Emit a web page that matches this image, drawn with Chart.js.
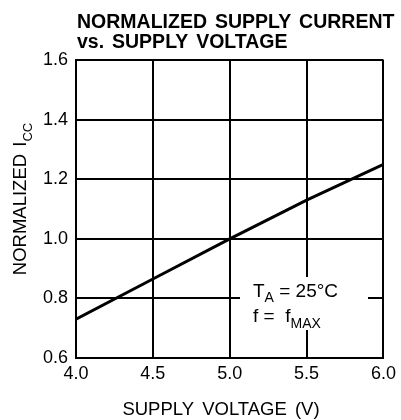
<!DOCTYPE html>
<html>
<head>
<meta charset="utf-8">
<script src="https://cdn.jsdelivr.net/npm/chart.js@4"></script>
<style>
html,body{margin:0;padding:0;background:#fff;}
#wrap{width:401px;height:420px;position:relative;}
</style>
</head>
<body>
<div id="wrap"><canvas id="c" width="401" height="420"></canvas></div>
<script>
const voltage = [4.0, 4.5, 5.0, 5.5, 6.0];
const normIcc = [0.73, 0.865, 1.0, 1.13, 1.25];
const xTickValues = [4.0, 4.5, 5.0, 5.5, 6.0];
const yTickValues = [0.6, 0.8, 1.0, 1.2, 1.4, 1.6];
const titleLines = ['NORMALIZED SUPPLY CURRENT', 'vs. SUPPLY VOLTAGE'];
const xTitle = 'SUPPLY VOLTAGE (V)';
const yTitleMain = 'NORMALIZED I';
const yTitleSub = 'CC';

const FONT = '"Liberation Sans", Arial, sans-serif';

function wordsWidth(ctx, text, gap) {
  const words = text.split(' ');
  const sp = ctx.measureText(' ').width + gap;
  let w = 0;
  words.forEach((wd, i) => { w += ctx.measureText(wd).width; if (i < words.length - 1) w += sp; });
  return w;
}
function drawWords(ctx, text, x, y, gap) {
  const words = text.split(' ');
  const sp = ctx.measureText(' ').width + gap;
  words.forEach(wd => { ctx.fillText(wd, x, y); x += ctx.measureText(wd).width + sp; });
  return x - sp;
}

const textPlugin = {
  id: 'textPlugin',
  afterDraw(chart) {
    const ctx = chart.ctx;
    ctx.save();
    ctx.fillStyle = '#000';
    ctx.textAlign = 'left';
    ctx.textBaseline = 'alphabetic';
    // Title
    ctx.font = 'bold 19.5px ' + FONT;
    drawWords(ctx, titleLines[0], 77, 27.5, 2.5);
    drawWords(ctx, titleLines[1], 77, 48, 2.5);
    // X title
    ctx.font = '18.5px ' + FONT;
    const xw = wordsWidth(ctx, xTitle, 3);
    drawWords(ctx, xTitle, 221 - xw / 2, 415, 3);
    // Y title rotated
    ctx.save();
    ctx.translate(26, 199);
    ctx.rotate(-Math.PI / 2);
    ctx.font = '18.5px ' + FONT;
    const wMain = wordsWidth(ctx, yTitleMain, 2);
    ctx.font = '13px ' + FONT;
    const wSub = ctx.measureText(yTitleSub).width;
    const total = wMain + wSub;
    ctx.font = '18.5px ' + FONT;
    drawWords(ctx, yTitleMain, -total / 2, 0, 2);
    ctx.font = '13px ' + FONT;
    ctx.fillText(yTitleSub, -total / 2 + wMain, 6);
    ctx.restore();
    // Annotation box
    ctx.fillStyle = '#fff';
    ctx.fillRect(240, 277, 128, 53);
    ctx.fillStyle = '#000';
    let x = 253;
    ctx.font = '19px ' + FONT;
    ctx.fillText('T', x, 297);
    x += ctx.measureText('T').width;
    ctx.font = '14px ' + FONT;
    ctx.fillText('A', x, 302);
    x += ctx.measureText('A').width;
    ctx.font = '19px ' + FONT;
    ctx.fillText(' = 25°C', x, 297);
    x = 253;
    ctx.fillText('f =  f', x, 322);
    x += ctx.measureText('f =  f').width;
    ctx.font = '14px ' + FONT;
    ctx.fillText('MAX', x, 328);
    ctx.restore();
  }
};

new Chart(document.getElementById('c'), {
  type: 'line',
  data: {
    datasets: [{
      data: voltage.map((v, i) => ({x: v, y: normIcc[i]})),
      borderColor: '#000',
      borderWidth: 3,
      pointRadius: 0,
      tension: 0,
      fill: false
    }]
  },
  options: {
    responsive: false,
    animation: false,
    events: [],
    layout: {padding: {left: 0, right: 14, top: 60, bottom: 0}},
    plugins: {legend: {display: false}, title: {display: false}, tooltip: {enabled: false}},
    scales: {
      x: {
        type: 'linear',
        min: 4.0, max: 6.0,
        afterBuildTicks(scale) { scale.ticks = xTickValues.map(v => ({value: v})); },
        afterFit(scale) { scale.height = 62; },
        grid: {color: '#000', lineWidth: 2, drawTicks: false},
        border: {color: '#000', width: 2},
        ticks: {color: '#000', padding: 5, maxRotation: 0, font: {family: FONT, size: 18},
          callback: v => Number(v).toFixed(1)}
      },
      y: {
        min: 0.6, max: 1.6,
        afterBuildTicks(scale) { scale.ticks = yTickValues.map(v => ({value: v})); },
        afterFit(scale) { scale.width = 76; },
        grid: {color: '#000', lineWidth: 2, drawTicks: false},
        border: {color: '#000', width: 2},
        ticks: {color: '#000', padding: 8, font: {family: FONT, size: 18},
          callback: v => Number(v).toFixed(1)}
      }
    }
  },
  plugins: [textPlugin]
});
</script>
</body>
</html>
